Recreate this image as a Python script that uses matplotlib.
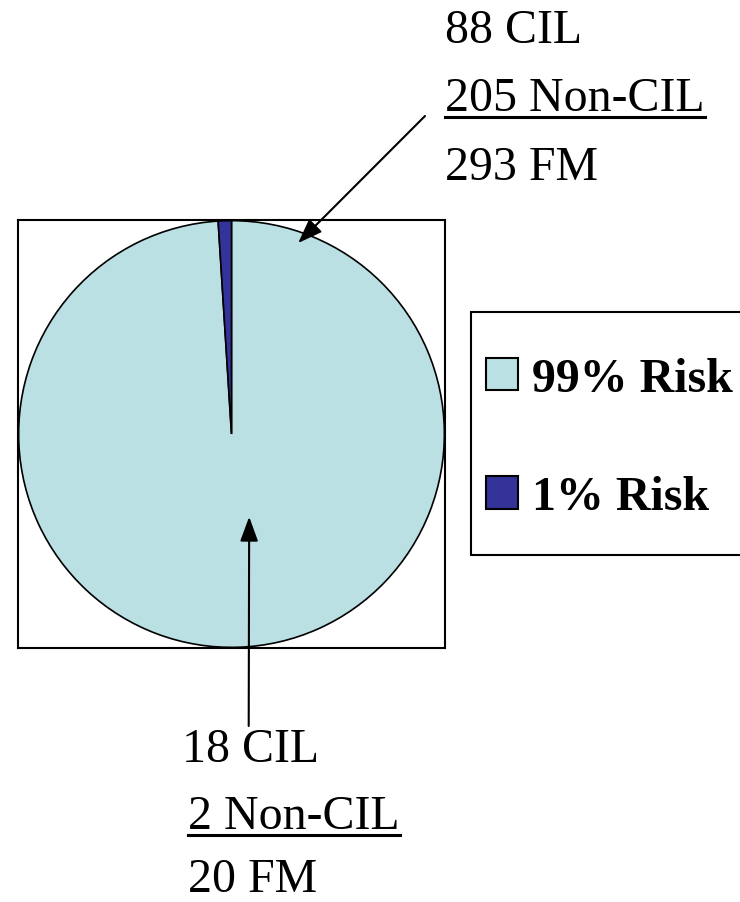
import matplotlib
matplotlib.use("Agg")
import matplotlib.pyplot as plt
from matplotlib.lines import Line2D
from matplotlib.patches import Rectangle

# Risk split of the pie
labels = ["99% Risk", "1% Risk"]
shares = [99, 1]
colors = ["#BAE0E3", "#333399"]

# Callout counts
top_lines = ["88 CIL", "205 Non-CIL", "293 FM"]
bottom_lines = ["18 CIL", "2 Non-CIL", "20 FM"]

plt.rcParams["font.family"] = ["Liberation Serif", "DejaVu Serif"]

W, H = 740, 903
fig = plt.figure(figsize=(W / 100, H / 100), dpi=100)

def fx(px):
    return px / W

def fy(py):
    return 1 - py / H

# Pie axes with a plain black frame
left, top, right, bottom = 18, 221, 445, 649
ax = fig.add_axes([fx(left), fy(bottom), fx(right - left), (bottom - top) / H])
wedges, _ = ax.pie(shares, colors=colors, startangle=90, counterclock=False,
                   radius=1.0,
                   wedgeprops=dict(edgecolor="black", linewidth=1.2))
ax.set_xlim(-1.003, 1.003)
ax.set_ylim(-1.003, 1.003)
ax.set_aspect("auto")
ax.set_xticks([])
ax.set_yticks([])
ax.set_frame_on(True)
for s in ax.spines.values():
    s.set_visible(True)
    s.set_color("black")
    s.set_linewidth(1.5)

# Legend box
fig.add_artist(Rectangle((fx(471), fy(556)), fx(740 - 471) + 0.01, (556 - 313) / H,
                         transform=fig.transFigure, facecolor="white",
                         edgecolor="black", linewidth=1.5, clip_on=False))
leg = fig.legend(wedges, labels, loc="center left",
                 bbox_to_anchor=(fx(486), fy(439)),
                 frameon=False, prop=dict(family="Liberation Serif", weight="bold", size=34.5),
                 handlelength=0.66, handleheight=0.66, handletextpad=0.3,
                 labelspacing=1.56, borderpad=0, borderaxespad=0)
for h in leg.legend_handles:
    h.set_edgecolor("black")
    h.set_linewidth(1.5)

FS = 34.5
renderer = fig.canvas.get_renderer()

def text_block(x_list, y_list, lines, underline_idx, ul_offset):
    for i, (x, y, s) in enumerate(zip(x_list, y_list, lines)):
        t = fig.text(fx(x), fy(y), s, fontsize=FS, ha="left", va="baseline")
        if i == underline_idx:
            bb = t.get_window_extent(renderer=renderer)
            x0 = bb.x0 / fig.dpi / fig.get_figwidth()
            x1 = bb.x1 / fig.dpi / fig.get_figwidth()
            fig.add_artist(Line2D([x0, x1], [fy(y + ul_offset)] * 2,
                                  transform=fig.transFigure, color="black",
                                  linewidth=2.2))

text_block([445, 445, 445], [43, 111, 180], top_lines, 1, 7)
text_block([182, 188, 188], [762, 829, 892], bottom_lines, 1, 7)

# Arrows pointing into the pie
arrow = dict(arrowstyle="-|>,head_length=1.5,head_width=0.55", color="black",
             linewidth=1.5, shrinkA=0, shrinkB=0)
ax.annotate("", xy=(0.313, 0.895), xycoords="data",
            xytext=(fx(425), fy(117)), textcoords="figure fraction",
            arrowprops=arrow, annotation_clip=False)
ax.annotate("", xy=(0.083, -0.388), xycoords="data",
            xytext=(fx(248.7), fy(727)), textcoords="figure fraction",
            arrowprops=arrow, annotation_clip=False)

fig.savefig("out.png", dpi=100)
